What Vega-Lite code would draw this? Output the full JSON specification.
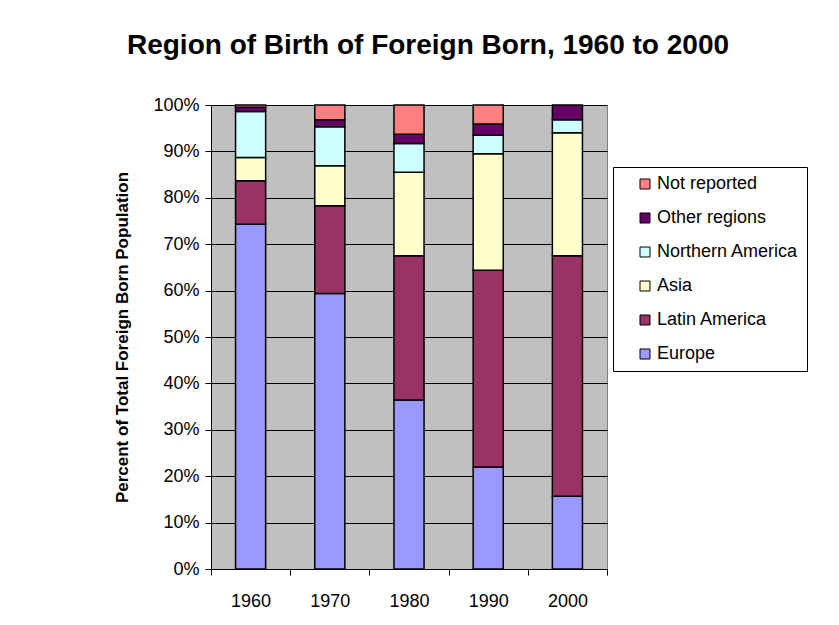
{
  "$schema": "https://vega.github.io/schema/vega-lite/v6.json",
  "width": 396,
  "height": 464,
  "autosize": {"type": "none"},
  "padding": {"left": 211, "top": 105, "right": 232, "bottom": 56},
  "background": "white",
  "title": {
    "text": "Region of Birth of Foreign Born, 1960 to 2000",
    "font": "Liberation Sans",
    "fontSize": 28,
    "fontWeight": "bold",
    "color": "black",
    "anchor": "middle",
    "frame": "group",
    "dx": 19,
    "offset": 36
  },
  "data": {
    "values": [
      {"year": "1960", "region": "Europe", "pct": 74.3},
      {"year": "1960", "region": "Latin America", "pct": 9.4},
      {"year": "1960", "region": "Asia", "pct": 5.0},
      {"year": "1960", "region": "Northern America", "pct": 9.9},
      {"year": "1960", "region": "Other regions", "pct": 0.9},
      {"year": "1960", "region": "Not reported", "pct": 0.5},
      {"year": "1970", "region": "Europe", "pct": 59.4},
      {"year": "1970", "region": "Latin America", "pct": 18.9},
      {"year": "1970", "region": "Asia", "pct": 8.6},
      {"year": "1970", "region": "Northern America", "pct": 8.4},
      {"year": "1970", "region": "Other regions", "pct": 1.5},
      {"year": "1970", "region": "Not reported", "pct": 3.2},
      {"year": "1980", "region": "Europe", "pct": 36.4},
      {"year": "1980", "region": "Latin America", "pct": 31.1},
      {"year": "1980", "region": "Asia", "pct": 18.0},
      {"year": "1980", "region": "Northern America", "pct": 6.2},
      {"year": "1980", "region": "Other regions", "pct": 2.0},
      {"year": "1980", "region": "Not reported", "pct": 6.3},
      {"year": "1990", "region": "Europe", "pct": 22.0},
      {"year": "1990", "region": "Latin America", "pct": 42.4},
      {"year": "1990", "region": "Asia", "pct": 25.1},
      {"year": "1990", "region": "Northern America", "pct": 4.0},
      {"year": "1990", "region": "Other regions", "pct": 2.4},
      {"year": "1990", "region": "Not reported", "pct": 4.1},
      {"year": "2000", "region": "Europe", "pct": 15.7},
      {"year": "2000", "region": "Latin America", "pct": 51.8},
      {"year": "2000", "region": "Asia", "pct": 26.5},
      {"year": "2000", "region": "Northern America", "pct": 2.8},
      {"year": "2000", "region": "Other regions", "pct": 3.2}
    ]
  },
  "transform": [
    {"calculate": "indexof(['Europe','Latin America','Asia','Northern America','Other regions','Not reported'], datum.region)", "as": "stackorder"}
  ],
  "mark": {"type": "bar", "stroke": "black", "strokeWidth": 1.5, "width": {"band": 0.38}},
  "encoding": {
    "x": {
      "field": "year",
      "type": "ordinal",
      "scale": {"paddingInner": 0, "paddingOuter": 0},
      "axis": {
        "title": null,
        "labelAngle": 0,
        "labelFontSize": 18,
        "labelColor": "black",
        "ticks": true,
        "tickBand": "extent",
        "tickSize": 6,
        "tickColor": "black",
        "labelPadding": 17,
        "domainColor": "black",
        "domainWidth": 1,
        "grid": false
      }
    },
    "y": {
      "field": "pct",
      "type": "quantitative",
      "stack": "normalize",
      "scale": {"domain": [0, 1], "nice": false},
      "axis": {
        "values": [0, 0.1, 0.2, 0.3, 0.4, 0.5, 0.6, 0.7, 0.8, 0.9, 1],
        "format": ".0%",
        "title": "Percent of Total Foreign Born Population",
        "titleFontSize": 17,
        "titleFontWeight": "bold",
        "titleColor": "black",
        "titlePadding": 21,
        "labelFontSize": 18,
        "labelColor": "black",
        "labelPadding": 6,
        "tickSize": 6,
        "tickColor": "black",
        "domainColor": "black",
        "grid": true,
        "gridColor": "black",
        "gridWidth": 1,
        "gridOpacity": 1
      }
    },
    "color": {
      "field": "region",
      "type": "nominal",
      "scale": {
        "domain": ["Not reported", "Other regions", "Northern America", "Asia", "Latin America", "Europe"],
        "range": ["#FF8080", "#660066", "#CCFFFF", "#FFFFCC", "#993366", "#9999FF"]
      },
      "legend": {
        "title": null,
        "orient": "none",
        "legendX": 402,
        "legendY": 62,
        "labelFontSize": 18,
        "labelColor": "black",
        "labelFont": "Liberation Sans",
        "symbolType": "square",
        "symbolSize": 100,
        "symbolStrokeColor": "black",
        "symbolStrokeWidth": 1,
        "symbolOffset": 15,
        "labelOffset": 3,
        "rowPadding": 16,
        "padding": 8,
        "fillColor": "white",
        "strokeColor": "black"
      }
    },
    "order": {"field": "stackorder", "type": "quantitative"}
  },
  "config": {
    "font": "Liberation Sans",
    "view": {"fill": "#C0C0C0", "stroke": "#808080"},
    "axis": {"labelFont": "Liberation Sans", "titleFont": "Liberation Sans"}
  }
}
